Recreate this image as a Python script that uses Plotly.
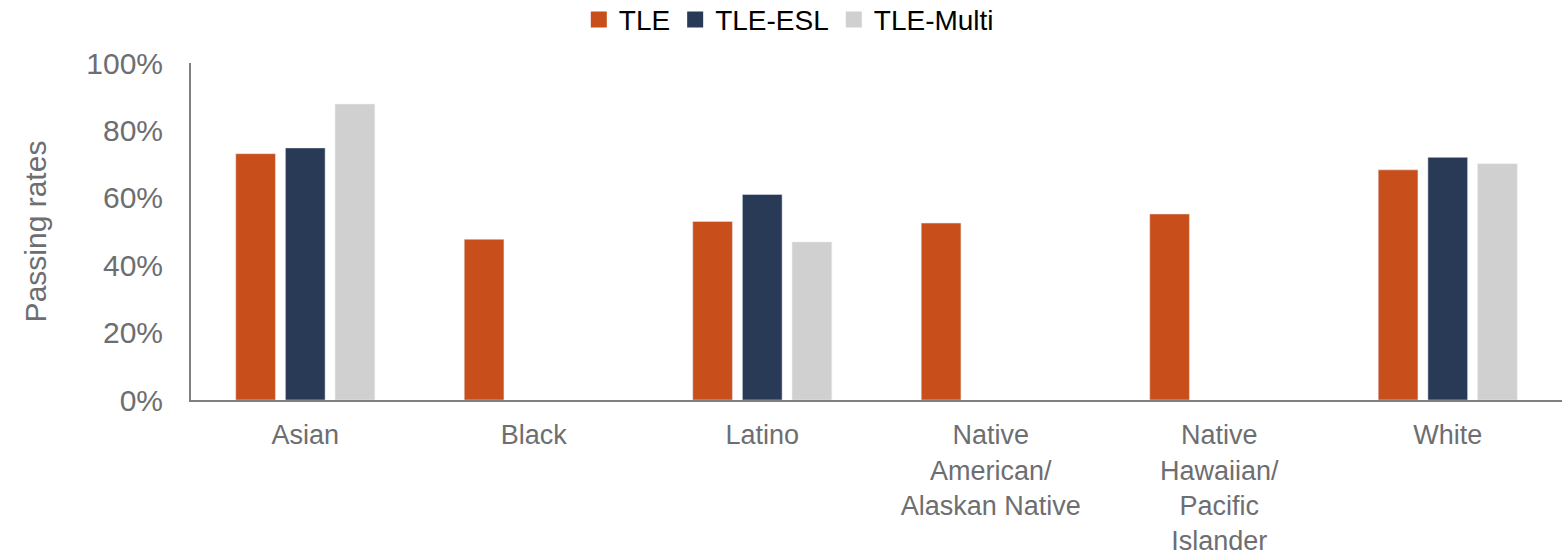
import plotly.graph_objects as go

categories = ["Asian", "Black", "Latino", "Native<br>American/<br>Alaskan Native",
              "Native<br>Hawaiian/<br>Pacific<br>Islander", "White"]
series_names = ["TLE", "TLE-ESL", "TLE-Multi"]
tle = [0.731, 0.477, 0.530, 0.525, 0.552, 0.683]
tle_esl = [0.748, None, 0.610, None, None, 0.720]
tle_multi = [0.878, None, 0.469, None, None, 0.701]
y_ticks = [0, 0.2, 0.4, 0.6, 0.8, 1.0]
y_tick_labels = ["0%", "20%", "40%", "60%", "80%", "100%"]
colors = ["#C84F1B", "#283A55", "#D0D0D0"]

font_family = "Liberation Sans, Arial, sans-serif"
gray = "#6d6e71"

fig = go.Figure()
for name, vals, col in zip(series_names, [tle, tle_esl, tle_multi], colors):
    fig.add_trace(go.Bar(name=name, x=categories, y=vals, marker_color=col,
                         showlegend=False, legendgroup=name))
# legend entries with larger square swatches
for name, col in zip(series_names, colors):
    fig.add_trace(go.Scatter(name=name, x=[None], y=[None], mode="markers",
                             marker=dict(symbol="square", size=16, color=col),
                             legendgroup=name, showlegend=True, hoverinfo="skip"))

fig.update_layout(
    width=1562, height=560,
    margin=dict(l=191, r=0, t=63, b=160, autoexpand=False),
    paper_bgcolor="white", plot_bgcolor="white",
    barmode="group", bargap=0.348, bargroupgap=0.2,
    font=dict(family=font_family, color=gray),
    legend=dict(orientation="h", xref="container", x=0.505, xanchor="center",
                yref="paper", y=1.128, yanchor="middle",
                font=dict(size=28, color="black", family=font_family),
                itemwidth=30, tracegroupgap=0),
    xaxis=dict(showline=True, linecolor="#7f7f7f", linewidth=2, ticks="",
               tickfont=dict(size=27, color=gray), showgrid=False,
               ticklabelstandoff=10, automargin=False),
    yaxis=dict(range=[0, 1], tickvals=y_ticks, ticktext=y_tick_labels,
               showline=True, linecolor="#7f7f7f", linewidth=2, ticks="",
               showgrid=False, zeroline=False, ticklabelstandoff=20,
               tickfont=dict(size=30, color=gray), automargin=False,
               title=dict(text="Passing rates", font=dict(size=30, color=gray), standoff=31)),
)

fig.write_html("out.html")
